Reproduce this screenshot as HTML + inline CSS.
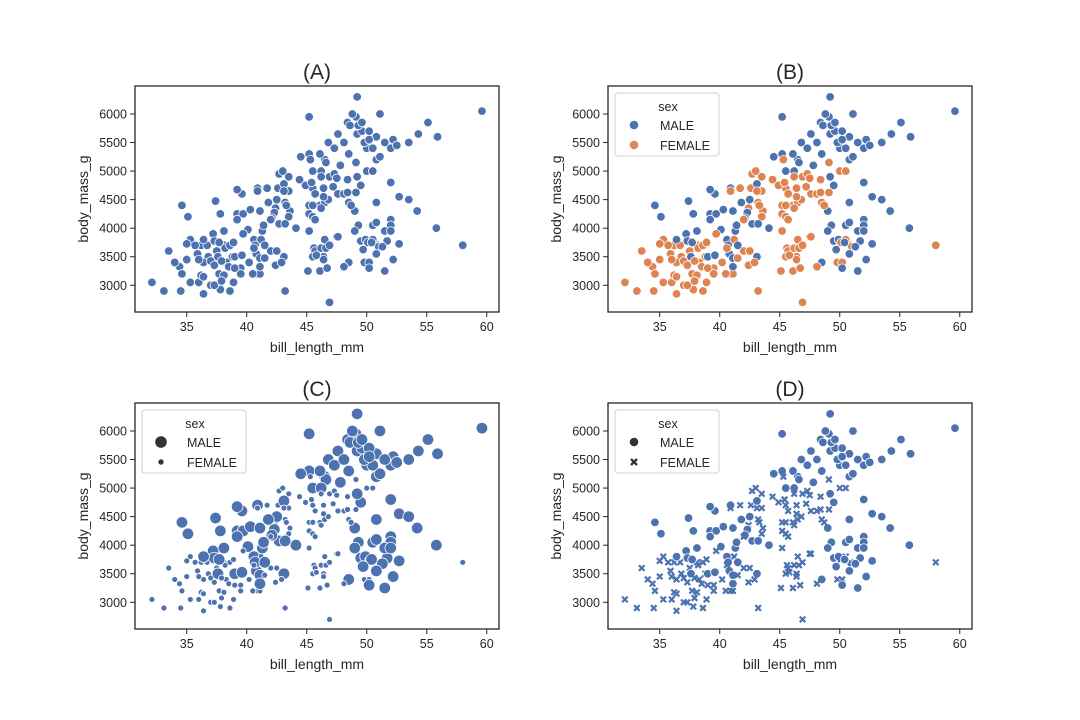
<!DOCTYPE html>
<html><head><meta charset="utf-8"><style>
body{margin:0;background:#fff;}
svg{display:block;font-family:"Liberation Sans",sans-serif;}
</style></head><body>
<svg id="fig" width="1080" height="720"></svg>
<script>
const maleX=[34.6,35.1,37.4,37.8,37.2,37.3,37.7,37.6,36.4,38.1,39.2,39.6,39.2,39.2,39.7,39.0,39.6,40.3,40.1,40.6,40.7,41.1,40.9,41.4,41.3,40.8,41.1,41.1,41.5,41.8,42.1,42.3,42.5,42.7,43.1,43.2,43.1,44.1,44.5,45.2,45.5,45.2,46.1,46.2,46.5,46.8,46.6,47.3,47.6,47.8,48.1,48.4,48.6,48.8,48.5,49.1,49.2,49.3,49.6,49.6,49.8,50.0,50.2,50.5,50.2,50.8,50.8,51.1,51.1,51.5,52.2,52.0,52.5,53.5,54.3,55.1,55.9,59.6,49.2,49.2,49.5,52.0,52.7,53.5,54.2,55.8,50.8,49.0,49.3,49.0,50.5,50.8,51.5,52.0,52.0,52.0,51.7,50.8,50.4,49.5,49.9,50.2,51.5,52.2,52.7,48.5,49.7,51.3];
const maleY=[4400,4200,4475,4250,3900,3775,3750,3500,3800,3950,4675,4600,4250,4150,4250,3500,3525,4325,3975,3800,3700,4300,4700,4050,3950,3550,3475,3325,3700,4450,4175,4275,4500,4075,4775,4075,3500,4000,5250,5300,5000,5950,5300,5000,5200,5500,5150,5400,5650,5100,5500,5850,5800,6000,5300,5950,5650,5800,5850,5700,5500,5400,5550,5400,5700,5600,5200,5250,6000,5500,5550,5400,5450,5500,5650,5850,5600,6050,6300,4900,4750,4800,4550,4500,4300,4000,4450,4300,4050,3950,4050,4100,3950,3950,4150,4050,3775,3550,3750,3775,3800,3300,3250,3450,3725,3400,3625,3675];
const femX=[32.1,33.1,33.5,34.0,34.4,34.6,34.5,35.0,35.3,35.0,35.3,35.7,35.9,36.0,36.0,36.2,36.4,36.2,36.4,36.4,36.7,36.8,37.0,37.0,37.3,37.5,37.3,37.7,37.9,37.8,37.9,38.1,38.1,38.2,38.3,38.5,38.6,38.6,38.8,38.9,38.9,39.0,39.5,39.5,39.7,40.2,40.5,40.9,40.6,41.1,41.2,41.5,42.0,42.4,42.5,42.9,43.2,46.9,40.9,41.7,42.0,42.4,42.6,42.7,43.0,43.1,43.2,43.3,43.5,43.5,43.6,43.5,44.4,44.9,45.2,45.2,45.3,45.4,45.5,45.5,45.5,45.7,45.7,46.1,46.2,46.2,46.4,46.4,46.5,46.8,46.9,47.3,47.2,47.5,47.6,48.1,48.4,48.4,48.5,48.7,49.1,49.1,50.0,50.5,45.2,45.1,45.6,45.8,45.5,46.1,46.2,46.4,46.5,46.6,46.7,46.9,47.5,47.6,48.1,49.8,50.1,50.2,50.5,50.9,51.0,58.0,46.4,45.7];
const femY=[3050,2900,3600,3400,3325,3200,2900,3450,3050,3725,3800,3700,3550,3450,3050,3700,3400,3175,3150,2850,3700,3500,3425,3000,3000,3600,3350,3200,3425,2925,3075,3175,3700,3650,3400,3325,2900,3700,3500,3050,3750,3300,3200,3300,3900,3400,3200,3200,3650,3200,3800,3475,3600,3350,3600,3400,2900,2700,4650,4700,4150,4350,4700,4950,5000,4650,4450,4400,4900,4650,4300,4200,4850,4750,4400,4250,5200,4800,4700,4400,4200,4600,4150,4400,4350,4900,4700,4550,4450,4500,4900,4950,4725,4875,4600,4600,4625,4850,4450,4400,4625,5150,5000,5000,3950,3250,3650,3525,3500,3250,3650,3450,3800,3650,3300,3700,3850,3850,3325,3400,3750,3400,3800,3700,3675,3700,3500,3600];
const xTicks=[35,40,45,50,55,60];
const yTicks=[3000,3500,4000,4500,5000,5500,6000];
const titles=["(A)","(B)","(C)","(D)"];
const BLUE="#4c72b0",ORANGE="#dd8452";
const NS="http://www.w3.org/2000/svg";
const fig=document.getElementById('fig');
function mk(tag,attrs,parent){const e=document.createElementNS(NS,tag);for(const k in attrs)e.setAttribute(k,attrs[k]);(parent||fig).appendChild(e);return e;}
const W=364,H=226,X0=30.69,X1=61.02,Y0=2532,Y1=6490;
const origins=[[135,86],[608,86],[135,403],[608,403]];
origins.forEach((o,pi)=>{
  const g=mk('g',{});
  
  
  const sx=v=>o[0]+(v-X0)/(X1-X0)*W;
  const sy=v=>o[1]+H-(v-Y0)/(Y1-Y0)*H;
  const pts=[];
  maleX.forEach((x,i)=>pts.push([x,maleY[i],'m']));
  femX.forEach((x,i)=>pts.push([x,femY[i],'f']));
  pts.sort((a,b)=>(a[0]*7+a[1])%13-(b[0]*7+b[1])%13);
  pts.forEach(p=>{
    const cx=sx(p[0]),cy=sy(p[1]);let e;
    if(pi===3&&p[2]==='f'){
      const s=2.8;
      e=mk('path',{d:`M${cx-s},${cy-s}L${cx+s},${cy+s}M${cx-s},${cy+s}L${cx+s},${cy-s}`,stroke:BLUE,'stroke-width':2.2,'stroke-linecap':'butt'},g);
    } else {
      let r=4.3,col=BLUE;
      if(pi===1&&p[2]==='f')col=ORANGE;
      if(pi===2)r=p[2]==='m'?5.8:3.0;
      e=mk('circle',{cx:cx,cy:cy,r:r,fill:col,stroke:'#fff','stroke-width':0.8},g);
    }
    
    
  });
  const fr=mk('rect',{x:o[0],y:o[1],width:W,height:H,fill:'none',stroke:'#262626','stroke-width':1.3},g);
  
  xTicks.forEach(t=>{const x=sx(t);mk('line',{x1:x,x2:x,y1:o[1]+H,y2:o[1]+H+5,stroke:'#262626','stroke-width':1},g);
    const tx=mk('text',{x:x,y:o[1]+H+19,'text-anchor':'middle','font-size':12.5,fill:'#262626'},g);tx.textContent=t;
    });
  yTicks.forEach(t=>{const y=sy(t);mk('line',{x1:o[0]-5,x2:o[0],y1:y,y2:y,stroke:'#262626','stroke-width':1},g);
    const tx=mk('text',{x:o[0]-8,y:y+4.5,'text-anchor':'end','font-size':12.5,fill:'#262626'},g);tx.textContent=t;
    });
  const xl=mk('text',{x:o[0]+W/2,y:o[1]+H+40,'text-anchor':'middle','font-size':14,fill:'#262626'},g);xl.textContent='bill_length_mm';
  
  const yl=mk('text',{transform:`translate(${o[0]-47},${o[1]+H/2}) rotate(-90)`,'text-anchor':'middle','font-size':14,fill:'#262626'},g);yl.textContent='body_mass_g';
  
  const ti=mk('text',{x:o[0]+W/2,y:o[1]-7,'text-anchor':'middle','font-size':21,fill:'#262626'},g);ti.textContent=titles[pi];
  
  if(pi>0){
    const lg=mk('g',{},g);
    
    const lx=o[0]+7,ly=o[1]+7;
    mk('rect',{x:lx,y:ly,width:104,height:63,rx:3,fill:'#fff','fill-opacity':0.8,stroke:'#d0d0d0','stroke-width':1},lg);
    const st=mk('text',{x:lx+53,y:ly+18,'text-anchor':'middle','font-size':12.5,fill:'#262626'},lg);st.textContent='sex';
    [['MALE',ly+37],['FEMALE',ly+57]].forEach((it,k)=>{
      let m;const mx=lx+19,my=it[1]-5;
      if(pi===1)m=mk('circle',{cx:mx,cy:my,r:4.3,fill:k?ORANGE:BLUE},lg);
      else if(pi===2)m=mk('circle',{cx:mx,cy:my,r:k?2.7:5.8,fill:'#333'},lg);
      else m=k?mk('path',{d:`M${mx-3},${my-3}L${mx+3},${my+3}M${mx-3},${my+3}L${mx+3},${my-3}`,stroke:'#333','stroke-width':2.4},lg):mk('circle',{cx:mx,cy:my,r:4.3,fill:'#333'},lg);
      
      const t=mk('text',{x:lx+45,y:it[1],'font-size':12.5,fill:'#262626'},lg);t.textContent=it[0];
      
    });
  }
});
</script>
</body></html>
